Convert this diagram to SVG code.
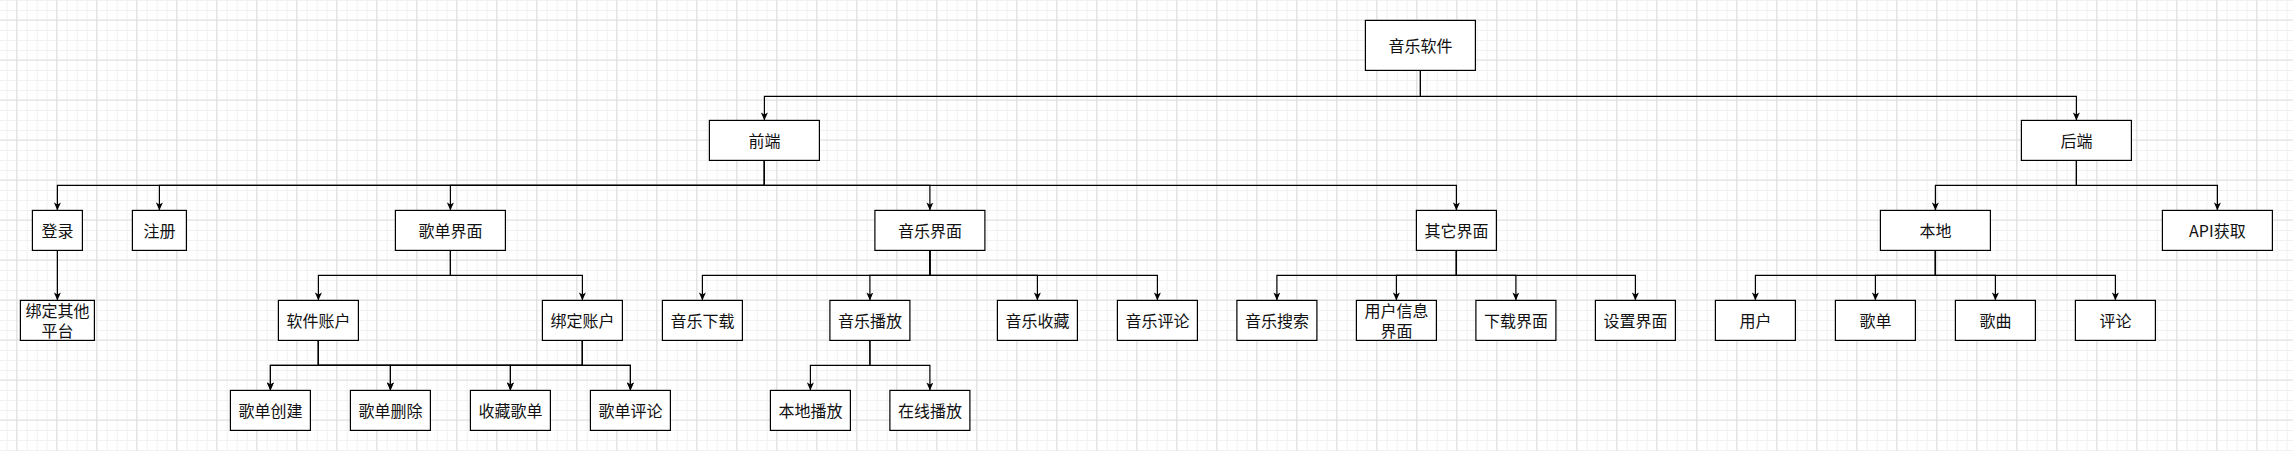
<svg xmlns="http://www.w3.org/2000/svg" width="2293" height="451" viewBox="0 0 2293 451">
<defs>
<pattern id="minor" patternUnits="userSpaceOnUse" x="6.7" y="0" width="10" height="10">
<path d="M0.5,0 V10 M0,0.5 H10" fill="none" stroke="#f1f1f1" stroke-width="1"/>
</pattern>
<pattern id="major" patternUnits="userSpaceOnUse" x="16.2" y="19.5" width="40" height="40">
<path d="M0.5,0 V40 M0,0.5 H40" fill="none" stroke="#dedede" stroke-width="1"/>
</pattern>
<marker id="arr" viewBox="0 0 8 7" refX="8" refY="3.5" markerWidth="8" markerHeight="7" markerUnits="userSpaceOnUse" orient="auto">
<path d="M0,0 L8,3.5 L0,7 L2,3.5 Z" fill="#000"/>
</marker>
<style>
.box{fill:#fff;stroke:#000;stroke-width:1.2}
.lbl{font-family:"Noto Sans CJK SC","Liberation Sans",sans-serif;font-size:16px;fill:#111;text-anchor:middle;dominant-baseline:central}
.edge{fill:none;stroke:#000;stroke-width:1.2;marker-end:url(#arr)}
</style>
</defs>
<rect width="2293" height="451" fill="#fff"/>
<rect width="2293" height="451" fill="url(#minor)"/>
<rect width="2293" height="451" fill="url(#major)"/>
<g transform="translate(0.4,0.4)">
<g id="connectors">
<path class="edge" d="M1420,70 V96 H764 V120"/>
<path class="edge" d="M1420,70 V96 H2076 V120"/>
<path class="edge" d="M764,160 V185 H57 V210"/>
<path class="edge" d="M764,160 V185 H159 V210"/>
<path class="edge" d="M764,160 V185 H450 V210"/>
<path class="edge" d="M764,160 V185 H929.5 V210"/>
<path class="edge" d="M764,160 V185 H1456 V210"/>
<path class="edge" d="M2076,160 V185 H1935 V210"/>
<path class="edge" d="M2076,160 V185 H2217 V210"/>
<path class="edge" d="M57,250 V300"/>
<path class="edge" d="M450,250 V275 H318 V300"/>
<path class="edge" d="M450,250 V275 H582 V300"/>
<path class="edge" d="M929.5,250 V275 H702 V300"/>
<path class="edge" d="M929.5,250 V275 H869.5 V300"/>
<path class="edge" d="M929.5,250 V275 H1037 V300"/>
<path class="edge" d="M929.5,250 V275 H1157 V300"/>
<path class="edge" d="M1456,250 V275 H1276.5 V300"/>
<path class="edge" d="M1456,250 V275 H1396 V300"/>
<path class="edge" d="M1456,250 V275 H1515.5 V300"/>
<path class="edge" d="M1456,250 V275 H1635 V300"/>
<path class="edge" d="M1935,250 V275 H1755 V300"/>
<path class="edge" d="M1935,250 V275 H1875 V300"/>
<path class="edge" d="M1935,250 V275 H1995 V300"/>
<path class="edge" d="M1935,250 V275 H2115 V300"/>
<path class="edge" d="M318,340 V365 H270 V390"/>
<path class="edge" d="M318,340 V365 H390 V390"/>
<path class="edge" d="M318,340 V365 H510 V390"/>
<path class="edge" d="M318,340 V365 H630 V390"/>
<path class="edge" d="M582,340 V365 H270 V390"/>
<path class="edge" d="M582,340 V365 H390 V390"/>
<path class="edge" d="M582,340 V365 H510 V390"/>
<path class="edge" d="M582,340 V365 H630 V390"/>
<path class="edge" d="M869.5,340 V365 H810 V390"/>
<path class="edge" d="M869.5,340 V365 H929.5 V390"/>
</g>
<g id="n-root"><rect class="box" x="1365" y="20" width="110" height="50"/><text class="lbl" x="1420" y="45">音乐软件</text></g>
<g id="n-frontend"><rect class="box" x="709" y="120" width="110" height="40"/><text class="lbl" x="764" y="140">前端</text></g>
<g id="n-backend"><rect class="box" x="2021" y="120" width="110" height="40"/><text class="lbl" x="2076" y="140">后端</text></g>
<g id="n-login"><rect class="box" x="32" y="210" width="50" height="40"/><text class="lbl" x="57" y="230">登录</text></g>
<g id="n-register"><rect class="box" x="132" y="210" width="54" height="40"/><text class="lbl" x="159" y="230">注册</text></g>
<g id="n-playlist-ui"><rect class="box" x="395" y="210" width="110" height="40"/><text class="lbl" x="450" y="230">歌单界面</text></g>
<g id="n-music-ui"><rect class="box" x="874.5" y="210" width="110" height="40"/><text class="lbl" x="929.5" y="230">音乐界面</text></g>
<g id="n-other-ui"><rect class="box" x="1416" y="210" width="80" height="40"/><text class="lbl" x="1456" y="230">其它界面</text></g>
<g id="n-local"><rect class="box" x="1880" y="210" width="110" height="40"/><text class="lbl" x="1935" y="230">本地</text></g>
<g id="n-api"><rect class="box" x="2162" y="210" width="110" height="40"/><text class="lbl" x="2217" y="230">API获取</text></g>
<g id="n-bind-other"><rect class="box" x="20" y="300" width="74" height="40"/><text class="lbl" x="57" y="310">绑定其他</text><text class="lbl" x="57" y="330">平台</text></g>
<g id="n-soft-account"><rect class="box" x="278" y="300" width="80" height="40"/><text class="lbl" x="318" y="320">软件账户</text></g>
<g id="n-bind-account"><rect class="box" x="542" y="300" width="80" height="40"/><text class="lbl" x="582" y="320">绑定账户</text></g>
<g id="n-music-download"><rect class="box" x="662" y="300" width="80" height="40"/><text class="lbl" x="702" y="320">音乐下载</text></g>
<g id="n-music-play"><rect class="box" x="829.5" y="300" width="80" height="40"/><text class="lbl" x="869.5" y="320">音乐播放</text></g>
<g id="n-music-fav"><rect class="box" x="997" y="300" width="80" height="40"/><text class="lbl" x="1037" y="320">音乐收藏</text></g>
<g id="n-music-comment"><rect class="box" x="1117" y="300" width="80" height="40"/><text class="lbl" x="1157" y="320">音乐评论</text></g>
<g id="n-music-search"><rect class="box" x="1236.5" y="300" width="80" height="40"/><text class="lbl" x="1276.5" y="320">音乐搜索</text></g>
<g id="n-user-info"><rect class="box" x="1356" y="300" width="80" height="40"/><text class="lbl" x="1396" y="310">用户信息</text><text class="lbl" x="1396" y="330">界面</text></g>
<g id="n-download-ui"><rect class="box" x="1475.5" y="300" width="80" height="40"/><text class="lbl" x="1515.5" y="320">下载界面</text></g>
<g id="n-settings-ui"><rect class="box" x="1595" y="300" width="80" height="40"/><text class="lbl" x="1635" y="320">设置界面</text></g>
<g id="n-user"><rect class="box" x="1715" y="300" width="80" height="40"/><text class="lbl" x="1755" y="320">用户</text></g>
<g id="n-playlist"><rect class="box" x="1835" y="300" width="80" height="40"/><text class="lbl" x="1875" y="320">歌单</text></g>
<g id="n-song"><rect class="box" x="1955" y="300" width="80" height="40"/><text class="lbl" x="1995" y="320">歌曲</text></g>
<g id="n-comment"><rect class="box" x="2075" y="300" width="80" height="40"/><text class="lbl" x="2115" y="320">评论</text></g>
<g id="n-pl-create"><rect class="box" x="230" y="390" width="80" height="40"/><text class="lbl" x="270" y="410">歌单创建</text></g>
<g id="n-pl-delete"><rect class="box" x="350" y="390" width="80" height="40"/><text class="lbl" x="390" y="410">歌单删除</text></g>
<g id="n-pl-fav"><rect class="box" x="470" y="390" width="80" height="40"/><text class="lbl" x="510" y="410">收藏歌单</text></g>
<g id="n-pl-comment"><rect class="box" x="590" y="390" width="80" height="40"/><text class="lbl" x="630" y="410">歌单评论</text></g>
<g id="n-local-play"><rect class="box" x="770" y="390" width="80" height="40"/><text class="lbl" x="810" y="410">本地播放</text></g>
<g id="n-online-play"><rect class="box" x="889.5" y="390" width="80" height="40"/><text class="lbl" x="929.5" y="410">在线播放</text></g>
</g>
</svg>
